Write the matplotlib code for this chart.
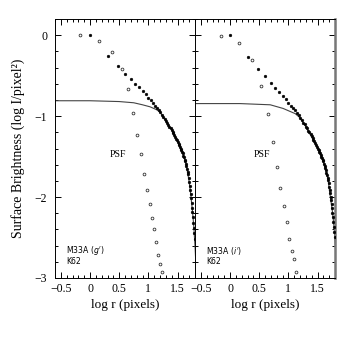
import numpy as np
import matplotlib
matplotlib.use('Agg')
import matplotlib.pyplot as plt
from matplotlib.ticker import MultipleLocator

# pixel radii of the galaxy profile samples
r_gal = np.arange(1, 63)

# surface brightness, M33A g'
sb_g = [0.0, -0.26, -0.38, -0.48, -0.54, -0.60, -0.64, -0.69, -0.73, -0.77,
        -0.80, -0.84, -0.87, -0.90, -0.93, -0.95, -0.98, -1.01, -1.03, -1.06,
        -1.09, -1.11, -1.13, -1.15, -1.17, -1.19, -1.21, -1.23, -1.26, -1.28,
        -1.30, -1.32, -1.34, -1.36, -1.38, -1.40, -1.42, -1.44, -1.46, -1.49,
        -1.51, -1.54, -1.56, -1.59, -1.62, -1.65, -1.69, -1.72, -1.76, -1.81,
        -1.86, -1.91, -1.96, -2.01, -2.07, -2.13, -2.19, -2.25, -2.32, -2.38,
        -2.45, -2.52]

# surface brightness, M33A i'
sb_i = [0.0, -0.27, -0.42, -0.51, -0.59, -0.65, -0.70, -0.75, -0.79, -0.84,
        -0.87, -0.90, -0.93, -0.96, -0.99, -1.02, -1.05, -1.08, -1.10, -1.13,
        -1.15, -1.18, -1.20, -1.22, -1.25, -1.27, -1.29, -1.31, -1.33, -1.36,
        -1.38, -1.40, -1.42, -1.44, -1.46, -1.48, -1.50, -1.52, -1.54, -1.56,
        -1.59, -1.62, -1.64, -1.67, -1.70, -1.73, -1.76, -1.79, -1.83, -1.87,
        -1.91, -1.95, -2.00, -2.04, -2.09, -2.14, -2.20, -2.25, -2.31, -2.37,
        -2.43, -2.49]

# PSF profiles (log r, log I)
psf_g_x = [-0.17, 0.15, 0.38, 0.54, 0.65, 0.74, 0.81, 0.88, 0.93, 0.98,
           1.03, 1.07, 1.10, 1.13, 1.16, 1.20, 1.23]
psf_g_y = [0.0, -0.07, -0.21, -0.42, -0.67, -0.96, -1.23, -1.47, -1.71, -1.91,
           -2.09, -2.26, -2.40, -2.55, -2.71, -2.83, -2.93]
psf_i_x = [-0.16, 0.155, 0.38, 0.53, 0.65, 0.73, 0.80, 0.86, 0.93, 0.97,
           1.01, 1.06, 1.10, 1.13]
psf_i_y = [-0.01, -0.095, -0.31, -0.63, -0.97, -1.32, -1.63, -1.89, -2.11, -2.31,
           -2.52, -2.67, -2.77, -2.92]

# King (1962) model curves
k62_g_x = [-0.7, 0.0, 0.5, 0.75, 0.9, 1.03, 1.14, 1.2, 1.3, 1.4, 1.5, 1.6,
           1.65, 1.7, 1.73, 1.76, 1.78, 1.8, 1.82]
k62_g_y = [-0.81, -0.81, -0.82, -0.835, -0.86, -0.885, -0.92, -0.95, -1.06,
           -1.17, -1.31, -1.48, -1.60, -1.81, -1.99, -2.2, -2.37, -2.6, -2.9]
k62_i_x = [-0.7, 0.17, 0.69, 0.91, 1.12, 1.2, 1.3, 1.4, 1.5, 1.6, 1.68,
           1.72, 1.76, 1.79, 1.81, 1.83]
k62_i_y = [-0.845, -0.845, -0.86, -0.905, -0.97, -1.02, -1.13, -1.26, -1.38,
           -1.56, -1.78, -2.0, -2.2, -2.42, -2.65, -2.95]

panels = [
    ("M33A ($g'$)\nK62", sb_g, psf_g_x, psf_g_y, k62_g_x, k62_g_y, 0.48),
    ("M33A ($i'$)\nK62", sb_i, psf_i_x, psf_i_y, k62_i_x, k62_i_y, 0.55),
]

plt.rcParams['font.family'] = ['Liberation Serif', 'DejaVu Serif']
plt.rcParams['mathtext.fontset'] = 'dejavusans'

fig = plt.figure(figsize=(3.54, 3.54), dpi=100)
W, H = 354.0, 354.0
axes = [fig.add_axes([55 / W, 76 / H, 140 / W, 259 / H]),
        fig.add_axes([195 / W, 76 / H, 140 / W, 259 / H])]

for i, (ax, (name, sb, px, py, kx, ky, psf_x)) in enumerate(zip(axes, panels)):
    ax.plot(kx, ky, color='#444444', lw=0.8, zorder=2)
    ax.plot(np.log10(r_gal), sb, 'o', ms=2.0, mfc='black', mec='black',
            mew=0.3, zorder=3)
    ax.plot(px, py, 'o', ms=2.0, mfc='white', mec='#333333', mew=0.6, zorder=3)

    ax.text(psf_x, -1.48, 'PSF', fontsize=7, ha='center', va='center')
    ax.text(-0.41, -2.72, name, fontsize=5.6, family='DejaVu Sans',
            ha='left', va='center', linespacing=1.0)

    ax.set_xlim(-0.6, 1.8)
    ax.set_ylim(-3, 0.2)
    ax.xaxis.set_major_locator(MultipleLocator(0.5))
    ax.xaxis.set_minor_locator(MultipleLocator(0.1))
    ax.yaxis.set_major_locator(MultipleLocator(1))
    ax.yaxis.set_minor_locator(MultipleLocator(0.2))
    ax.tick_params(which='both', direction='in', top=True, right=True,
                   labelsize=8.5, width=0.7)
    ax.tick_params(which='major', length=4.5, pad=3.5)
    ax.tick_params(which='minor', length=2.3)
    ax.tick_params(axis='y', which='major', pad=5.5)
    ax.xaxis.set_major_formatter(plt.FuncFormatter(
        lambda v, p: ('%g' % v).replace('-', '\u2212')))
    for sp in ax.spines.values():
        sp.set_linewidth(0.7)
    ax.set_xlabel('log r (pixels)', fontsize=9.5, labelpad=3)
    if i == 0:
        ax.set_ylabel('Surface Brightness (log I/pixel\u00b2)', fontsize=10)
        ax.yaxis.set_label_coords(-0.215, 0.5)
    else:
        ax.tick_params(axis='y', labelleft=False)
        ax.spines['right'].set_linewidth(1.8)
        ax.spines['right'].set_color('#777777')

fig.savefig('out.png', dpi=100)
